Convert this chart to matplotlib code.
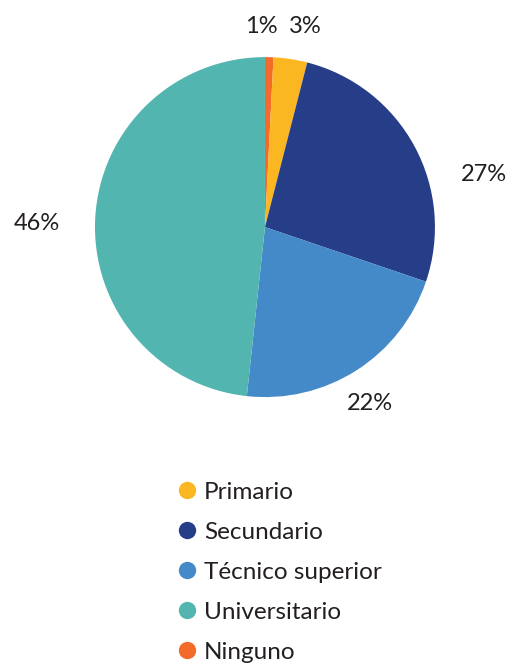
import matplotlib.pyplot as plt
from matplotlib.lines import Line2D

plt.rcParams["font.family"] = ["Lato", "DejaVu Sans"]

# slices in drawing order (clockwise from the top)
pie_names = ["Ninguno", "Primario", "Secundario", "Técnico superior", "Universitario"]
pie_values = [0.8, 3.2, 26.2, 21.5, 48.3]
pie_labels = ["1%", "3%", "27%", "22%", "46%"]
pie_colors = ["#F26B2A", "#FBB721", "#263D88", "#4489C8", "#53B5B0"]

# legend order
legend_names = ["Primario", "Secundario", "Técnico superior", "Universitario", "Ninguno"]

fig = plt.figure(figsize=(5.12, 6.65), dpi=100)
ax = fig.add_axes([0.1855, 0.4015, 0.664, 0.514])

wedges, _ = ax.pie(pie_values, colors=pie_colors, startangle=90,
                   counterclock=False, radius=1.0,
                   wedgeprops=dict(linewidth=0))
ax.set_xlim(-1, 1)
ax.set_ylim(-1, 1)
ax.set_aspect("equal")
ax.axis("off")

# percentage labels placed around the pie
label_pos = [(-0.02, 1.18), (0.235, 1.18), (1.29, 0.31), (0.62, -1.04), (-1.34, 0.02)]
for txt, (x, y) in zip(pie_labels, label_pos):
    ax.text(x, y, txt, ha="center", va="center", fontsize=17, color="#231F20")

color_of = dict(zip(pie_names, pie_colors))
handles = [Line2D([], [], marker="o", linestyle="", markersize=12.5,
                  markerfacecolor=color_of[n], markeredgewidth=0)
           for n in legend_names]
fig.legend(handles, legend_names, loc="upper left",
           bbox_to_anchor=(0.322, 0.294), frameon=False, fontsize=17.5,
           labelspacing=0.78, handlelength=0.8, handletextpad=0.3,
           labelcolor="#231F20", borderpad=0)

fig.savefig("out.png", dpi=100)
